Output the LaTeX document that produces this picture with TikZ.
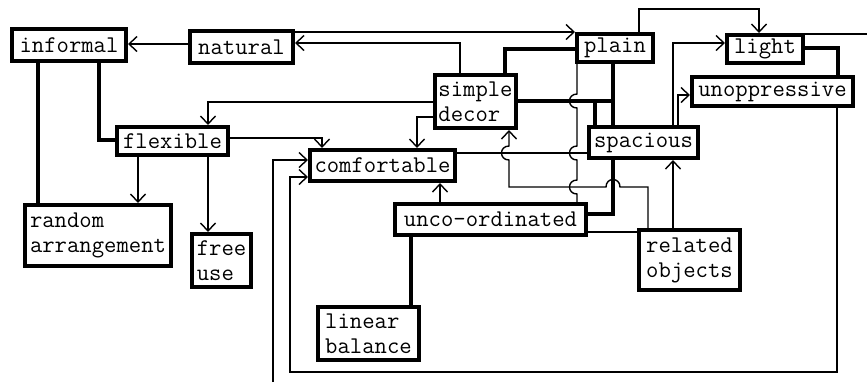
\documentclass[tikz,border=0pt]{standalone}
\usetikzlibrary{arrows.meta}
\newcommand\dbox[6]{\node[box, minimum width={#4-#2-4.2}, minimum height={#5-#3-4.2}] (#1) at ({(#2+#4)/2},{(#3+#5)/2}) {#6};}
\begin{document}
\begin{tikzpicture}[x=1pt,y=-1pt,
  box/.style={draw, line width=4.2pt, inner sep=0pt, align=left, fill=white,
    font=\ttfamily\fontsize{24}{25}\selectfont},
  thin/.style={line width=1.4pt},
  thk/.style={line width=3.8pt},
  arr/.style={thin, -{Straight Barb[length=8pt,width=15pt]}},
]
\useasboundingbox (0,0) rectangle (867,384);
% boxes
\dbox{informal}{10}{27}{128}{63}{informal}
\dbox{natural}{188}{29}{295}{65}{natural}
\dbox{plain}{575}{32}{655}{64}{plain}
\dbox{light}{725}{33}{805}{65}{light}
\dbox{unopp}{690}{75}{855}{108}{unoppressive}
\dbox{simple}{433}{73}{518}{130}{simple\\decor}
\dbox{flexible}{115}{125}{230}{157}{flexible}
\dbox{comf}{308}{148}{457}{183}{comfortable}
\dbox{spacious}{587}{125}{700}{160}{spacious}
\dbox{unco}{393}{202}{588}{237}{unco-ordinated}
\dbox{random}{23}{203}{173}{268}{random\\arrangement}
\dbox{free}{190}{232}{253}{289}{free\\use}
\dbox{related}{637}{228}{742}{292}{related\\objects}
\dbox{linear}{316}{305}{421}{362}{linear\\balance}
\coordinate (edgeR) at (867,34);
\coordinate (edgeB) at (273,382);
% thin connectors
\draw[arr] (natural.west |- 0,44) -- (informal.east |- 0,44);
\draw[arr] (simple.north -| 460,0) |- (natural.east |- 0,43);
\draw[arr] (natural.east |- 0,32) -- (plain.west |- 0,32);
\draw[arr] (plain.north -| 639,0) -- (639,9) -| (light.north -| 759,0);
\draw[thin] (plain.south -| 577,0) -- (577,94) .. controls (567,94) and (567,108) .. (577,108)
  -- (577,146) .. controls (567,146) and (567,160) .. (577,160)
  -- (577,180) .. controls (567,180) and (567,194) .. (577,194) -- (unco.north -| 577,0);
\draw[arr] (spacious.north -| 673,0) |- (light.west |- 0,43);
\draw[arr] (spacious.north -| 678,0) |- (unopp.west |- 0,95);
\draw[thin] (light.east |- 0,34) -- (edgeR);
\draw[arr] (unopp.south -| 837,0) |- (290,372) -- (290,177) -- (comf.west |- 0,177);
\draw[arr] (edgeB) |- (comf.west |- 0,160);
\draw[arr] (flexible.east |- 0,138) -| (comf.north -| 322,0);
\draw[arr] (simple.west |- 0,117) -| (comf.north -| 417,0);
\draw[arr] (simple.west |- 0,102) -| (flexible.north -| 208,0);
\draw[arr] (flexible.south -| 138,0) -- (random.north -| 138,0);
\draw[arr] (flexible.south -| 208,0) -- (free.north -| 208,0);
\draw[arr] (unco.north -| 440,0) -- (comf.south -| 440,0);
\draw[arr] (related.north -| 648,0) -- (648,187) -- (620,187) .. controls (620,177) and (606,177) .. (606,187)
  -- (509,187) -- (509,160) .. controls (499,160) and (499,146) .. (509,146) -- (simple.south -| 509,0);
\draw[thin] (comf.east |- 0,153) -- (spacious.west |- 0,153);
\draw[arr] (related.north -| 673,0) -- (spacious.south -| 673,0);
\draw[thin] (unco.east |- 0,232) -- (related.west |- 0,232);
% thick connectors
\draw[thk] (simple.north -| 505,0) |- (plain.west |- 0,49);
\draw[thk] (simple.east |- 0,101) -- (613,101);
\draw[thk] (595,101) -- (spacious.north -| 595,0);
\draw[thk] (plain.south -| 613,0) -- (spacious.north -| 613,0);
\draw[thk] (light.east |- 0,48) -| (unopp.north -| 838,0);
\draw[thk] (informal.south -| 38,0) -- (random.north -| 38,0);
\draw[thk] (informal.south -| 99,0) |- (flexible.west |- 0,140);
\draw[thk] (unco.south -| 411,0) -- (linear.north -| 411,0);
\draw[thk] (spacious.south -| 613,0) |- (unco.east |- 0,214);
\end{tikzpicture}
\end{document}
